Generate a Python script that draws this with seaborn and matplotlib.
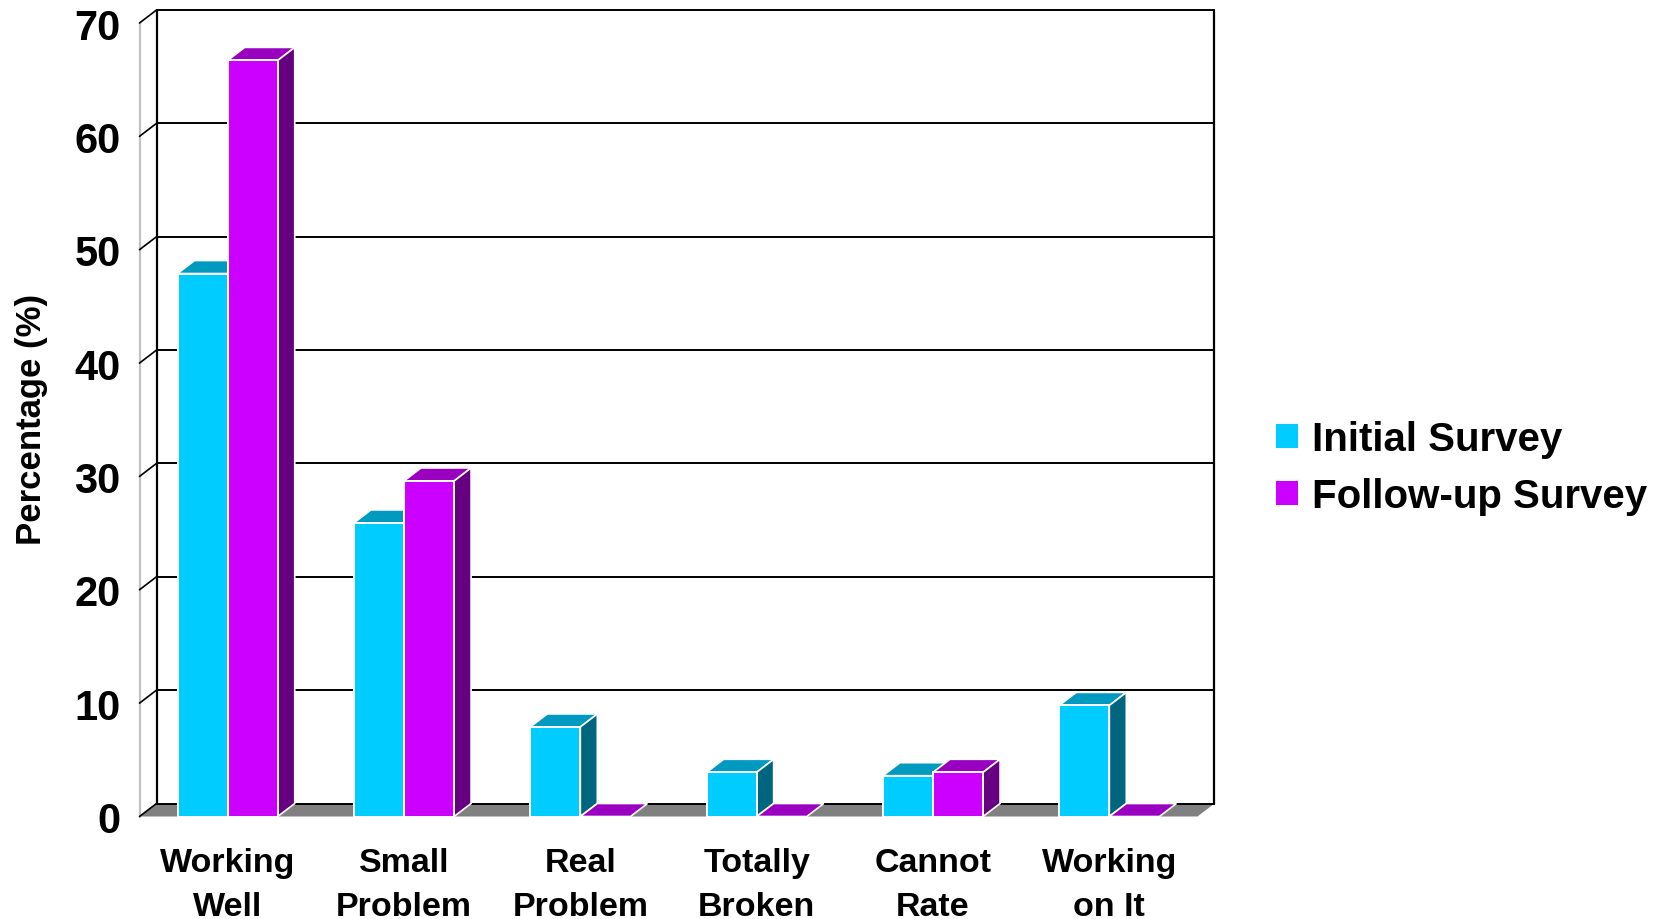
import matplotlib
matplotlib.use('Agg')
import matplotlib.pyplot as plt
from matplotlib.patches import Polygon
import pandas as pd
import seaborn as sns

categories = ['Working\nWell', 'Small\nProblem', 'Real\nProblem', 'Totally\nBroken', 'Cannot\nRate', 'Working\non It']
initial_survey = [47.9, 25.9, 7.9, 3.9, 3.6, 9.8]
followup_survey = [66.7, 29.6, 0, 0, 3.9, 0]
y_ticks = [0, 10, 20, 30, 40, 50, 60, 70]

front_colors = ['#00CCFF', '#CC00FF']
top_colors = ['#0099BF', '#9900BF']
side_colors = ['#006680', '#660080']

sns.set_theme(style='white')
plt.rcParams['font.family'] = ['Liberation Sans', 'DejaVu Sans']
plt.rcParams['font.weight'] = 'bold'

df = pd.DataFrame({
    'category': categories * 2,
    'value': initial_survey + followup_survey,
    'survey': ['Initial Survey'] * 6 + ['Follow-up Survey'] * 6,
})

fig = plt.figure(figsize=(16.7, 9.2), dpi=100)
ax = fig.add_axes([139.5 / 1670, 1 - 817.5 / 920, 1058 / 1670, 793.5 / 920])

sns.barplot(data=df, x='category', y='value', hue='survey', palette=front_colors,
            width=0.568, gap=0, saturation=1, edgecolor='white', linewidth=1.4, ax=ax)

ax.set_xlim(-0.5, 5.5)
ax.set_ylim(0, 70)
sns.despine(ax=ax, left=True, bottom=True)

# depth of the fake 3D box, in data units (17 px across, 13 px up)
dx = 17 / (1058 / 6)
dy = 13 / (793.5 / 70)
x0, x1 = ax.get_xlim()

# back wall, floor and side wall
ax.add_patch(Polygon([(x0, 0), (x1, 0), (x1 + dx, dy), (x0 + dx, dy)], closed=True,
                     facecolor='#808080', edgecolor='none', zorder=1, clip_on=False))
for v in y_ticks:
    ax.plot([x0 + dx, x1 + dx], [v + dy, v + dy], color='black', lw=1.4, zorder=1.5, clip_on=False)
    ax.plot([x0, x0 + dx], [v, v + dy], color='black', lw=1.2, zorder=1.5, clip_on=False)
ax.plot([x0 + dx, x0 + dx], [dy, 70 + dy], color='black', lw=1.6, zorder=1.5, clip_on=False)
ax.plot([x1 + dx, x1 + dx], [dy, 70 + dy], color='black', lw=1.6, zorder=1.5, clip_on=False)
ax.plot([x0, x0], [0, 70], color='#C0C0C0', lw=1.6, zorder=1.2, clip_on=False)

# top and side faces taken from the bars seaborn drew
for i, container in enumerate(ax.containers):
    for bar in container:
        bar.set_zorder(3 + i * 2 + 1)
        x, w, h = bar.get_x(), bar.get_width(), bar.get_height()
        ax.add_patch(Polygon([(x, h), (x + w, h), (x + w + dx, h + dy), (x + dx, h + dy)], closed=True,
                             facecolor=top_colors[i], edgecolor='white', linewidth=1.2,
                             zorder=3 + i * 2, clip_on=False))
        if h > 0:
            ax.add_patch(Polygon([(x + w, 0), (x + w + dx, dy), (x + w + dx, h + dy), (x + w, h)], closed=True,
                                 facecolor=side_colors[i], edgecolor='white', linewidth=1.2,
                                 zorder=3 + i * 2, clip_on=False))

ax.set_yticks(y_ticks)
ax.tick_params(axis='y', labelsize=30, pad=13.5, length=0, labelcolor='black')
ax.tick_params(axis='x', labelsize=24.5, pad=22, length=0, labelcolor='black')
for label in ax.get_xticklabels():
    label.set_linespacing(1.53)
ax.set_xlabel('')
ax.set_ylabel('')
fig.text(31 / 1670, 1 - 419 / 920, 'Percentage (%)', rotation=90, ha='center', va='center',
         fontsize=25, fontweight='bold', color='black')

handles, labels = ax.get_legend_handles_labels()
ax.legend(handles, labels, loc='center left', bbox_to_anchor=(1274.5 / 1670, 1 - 468.5 / 920),
          bbox_transform=fig.transFigure, frameon=False, fontsize=29, handlelength=0.6,
          handleheight=0.6, handletextpad=0.32, labelspacing=0.47, borderpad=0, borderaxespad=0,
          labelcolor='black')

fig.savefig('out.png', dpi=100)
